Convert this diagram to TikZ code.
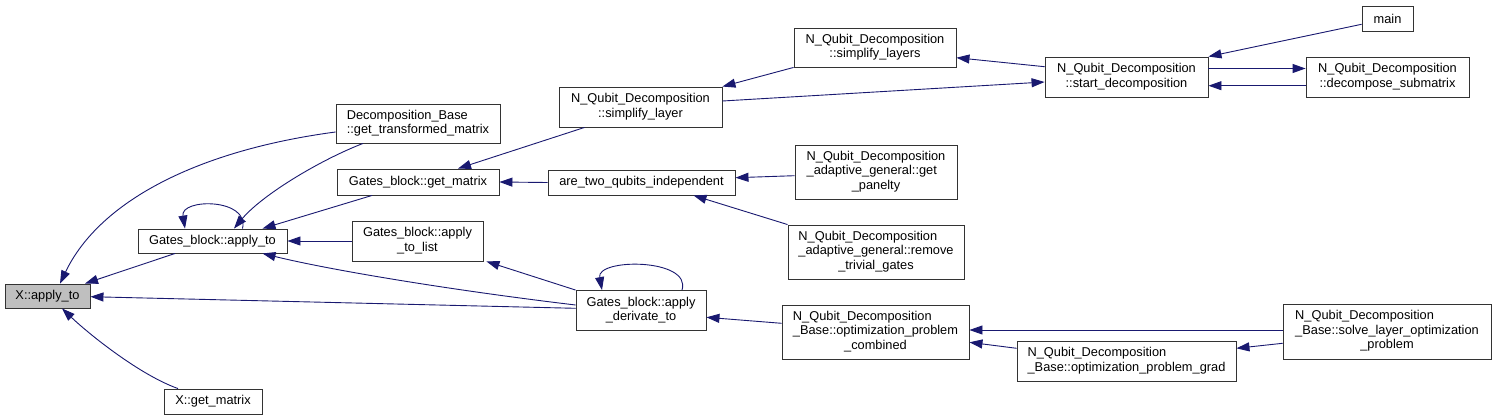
\documentclass[tikz,border=0pt]{standalone}
\usepackage{fontspec}
\setmainfont{Liberation Sans}
\usetikzlibrary{arrows.meta}
\definecolor{edgecol}{HTML}{191970}
\definecolor{rootfill}{HTML}{BFBFBF}
\newcommand{\mlab}[2]{\begin{tabular}{@{}l@{}}#1\\\multicolumn{1}{@{}c@{}}{#2}\end{tabular}}
\tikzset{
  box/.style={draw=black!80, line width=0.9pt, fill=white, inner sep=0pt, anchor=center,
    font=\fontsize{12.8}{14.4}\selectfont},
  e/.style={draw=edgecol, line width=0.9pt, -{Triangle[length=13pt,width=9pt]}, fill=none},
}
\begin{document}
\begin{tikzpicture}[x=1pt,y=-1pt]
\useasboundingbox (0,0) rectangle (1496,420);
\fill[white] (0,0) rectangle (1496,420);
% nodes
\node[box,minimum width=85pt,minimum height=24pt,fill=rootfill] (xapply) at (47.5,296) {X::apply\_to};
\node[box,minimum width=98pt,minimum height=25pt] (xget) at (213,401.5) {X::get\_matrix};
\node[box,minimum width=149pt,minimum height=24pt] (gapply) at (212.5,241) {Gates\_block::apply\_to};
\node[box,minimum width=164pt,minimum height=39pt] (dbget) at (418,123.5) {\mlab{Decomposition\_Base}{::get\_transformed\_matrix}};
\node[box,minimum width=162pt,minimum height=26pt] (ggetm) at (418,182) {Gates\_block::get\_matrix};
\node[box,minimum width=131pt,minimum height=40pt] (gapl) at (417.5,241) {\mlab{Gates\_block::apply}{\_to\_list}};
\node[box,minimum width=163pt,minimum height=40pt] (simpl) at (640.5,107) {\mlab{N\_Qubit\_Decomposition}{::simplify\_layer}};
\node[box,minimum width=187pt,minimum height=25pt] (two) at (641.5,182.5) {are\_two\_qubits\_independent};
\node[box,minimum width=162pt,minimum height=39pt] (simpls) at (875,47.5) {\mlab{N\_Qubit\_Decomposition}{::simplify\_layers}};
\node[box,minimum width=162pt,minimum height=54pt] (pan) at (876,172) {\mlab{N\_Qubit\_Decomposition\\\_adaptive\_general::get}{\_panelty}};
\node[box,minimum width=176pt,minimum height=54pt] (rem) at (876,252) {\mlab{N\_Qubit\_Decomposition\\\_adaptive\_general::remove}{\_trivial\_gates}};
\node[box,minimum width=130pt,minimum height=40pt] (deriv) at (641,310.5) {\mlab{Gates\_block::apply}{\_derivate\_to}};
\node[box,minimum width=187pt,minimum height=54pt] (comb) at (875.5,332) {\mlab{N\_Qubit\_Decomposition\\\_Base::optimization\_problem}{\_combined}};
\node[box,minimum width=219pt,minimum height=40pt] (grad) at (1126.5,361) {\mlab{N\_Qubit\_Decomposition}{\_Base::optimization\_problem\_grad}};
\node[box,minimum width=208pt,minimum height=55pt] (solve) at (1387,331.5) {\mlab{N\_Qubit\_Decomposition\\\_Base::solve\_layer\_optimization}{\_problem}};
\node[box,minimum width=163pt,minimum height=40pt] (start) at (1126.5,77) {\mlab{N\_Qubit\_Decomposition}{::start\_decomposition}};
\node[box,minimum width=163pt,minimum height=40pt] (decs) at (1387.5,77) {\mlab{N\_Qubit\_Decomposition}{::decompose\_submatrix}};
\node[box,minimum width=51pt,minimum height=25pt] (main) at (1387.5,18.5) {main};
% edges into X::apply_to
\draw[e] ([yshift=-8.5pt]dbget.west) .. controls (200,150) and (100,200) .. ([xshift=12.5pt]xapply.north);
\draw[e] ([xshift=-37.5pt]gapply.south) -- ([xshift=37.5pt]xapply.north);
\draw[e] ([yshift=2.2pt]deriv.west) -- ([yshift=-0.7pt]xapply.east);
\draw[e] ([xshift=-35pt]xget.north) .. controls (140,375) and (90,335) .. ([xshift=14.5pt]xapply.south);
% edges into Gates_block::apply_to
\draw[e] ([xshift=30pt]gapply.north) .. controls (250,198) and (180,198) .. ([xshift=-27.5pt]gapply.north);
\draw[e] ([xshift=-55pt]dbget.south) .. controls (320,160) and (262,195) .. ([xshift=21.5pt]gapply.north);
\draw[e] ([xshift=-46pt]ggetm.south) -- ([xshift=50pt]gapply.north);
\draw[e] (gapl.west) -- (gapply.east);
\draw[e] ([yshift=5.5pt]deriv.west) .. controls (450,290) and (330,270) .. ([xshift=50pt]gapply.south);
% others
\draw[e] (deriv.north west) -- ([xshift=3pt]gapl.south east);
\draw[e] ([xshift=41pt]deriv.north) .. controls (692,258) and (596,258) .. ([xshift=-39pt]deriv.north);
\draw[e] ([xshift=-56pt]simpl.south) -- ([xshift=40pt]ggetm.north);
\draw[e] (two.west) -- (ggetm.east);
\draw[e] (simpls.south west) -- (simpl.north east);
\draw[e] ([yshift=6pt]simpl.east) -- ([yshift=-5pt]start.west);
\draw[e] ([yshift=10.3pt]start.west) -- ([yshift=-10.2pt]simpls.east);
\draw[e] ([yshift=-5.8pt]main.west) -- (start.north east);
\draw[e] ([yshift=8.5pt]start.east) -- ([yshift=8.5pt]decs.west);
\draw[e] ([yshift=-8.7pt]decs.west) -- ([yshift=-8.7pt]start.east);
\draw[e] ([yshift=-3.7pt]pan.west) -- ([yshift=4.8pt]two.east);
\draw[e] (rem.north west) -- ([xshift=52pt]two.south);
\draw[e] ([yshift=8.7pt]comb.west) -- ([yshift=-6.8pt]deriv.east);
\draw[e] ([yshift=1.5pt]solve.west) -- ([yshift=2pt]comb.east);
\draw[e] ([yshift=12.7pt]grad.west) -- ([yshift=-10.3pt]comb.east);
\draw[e] ([yshift=-11.8pt]solve.west) -- ([yshift=12.7pt]grad.east);
\end{tikzpicture}
\end{document}
